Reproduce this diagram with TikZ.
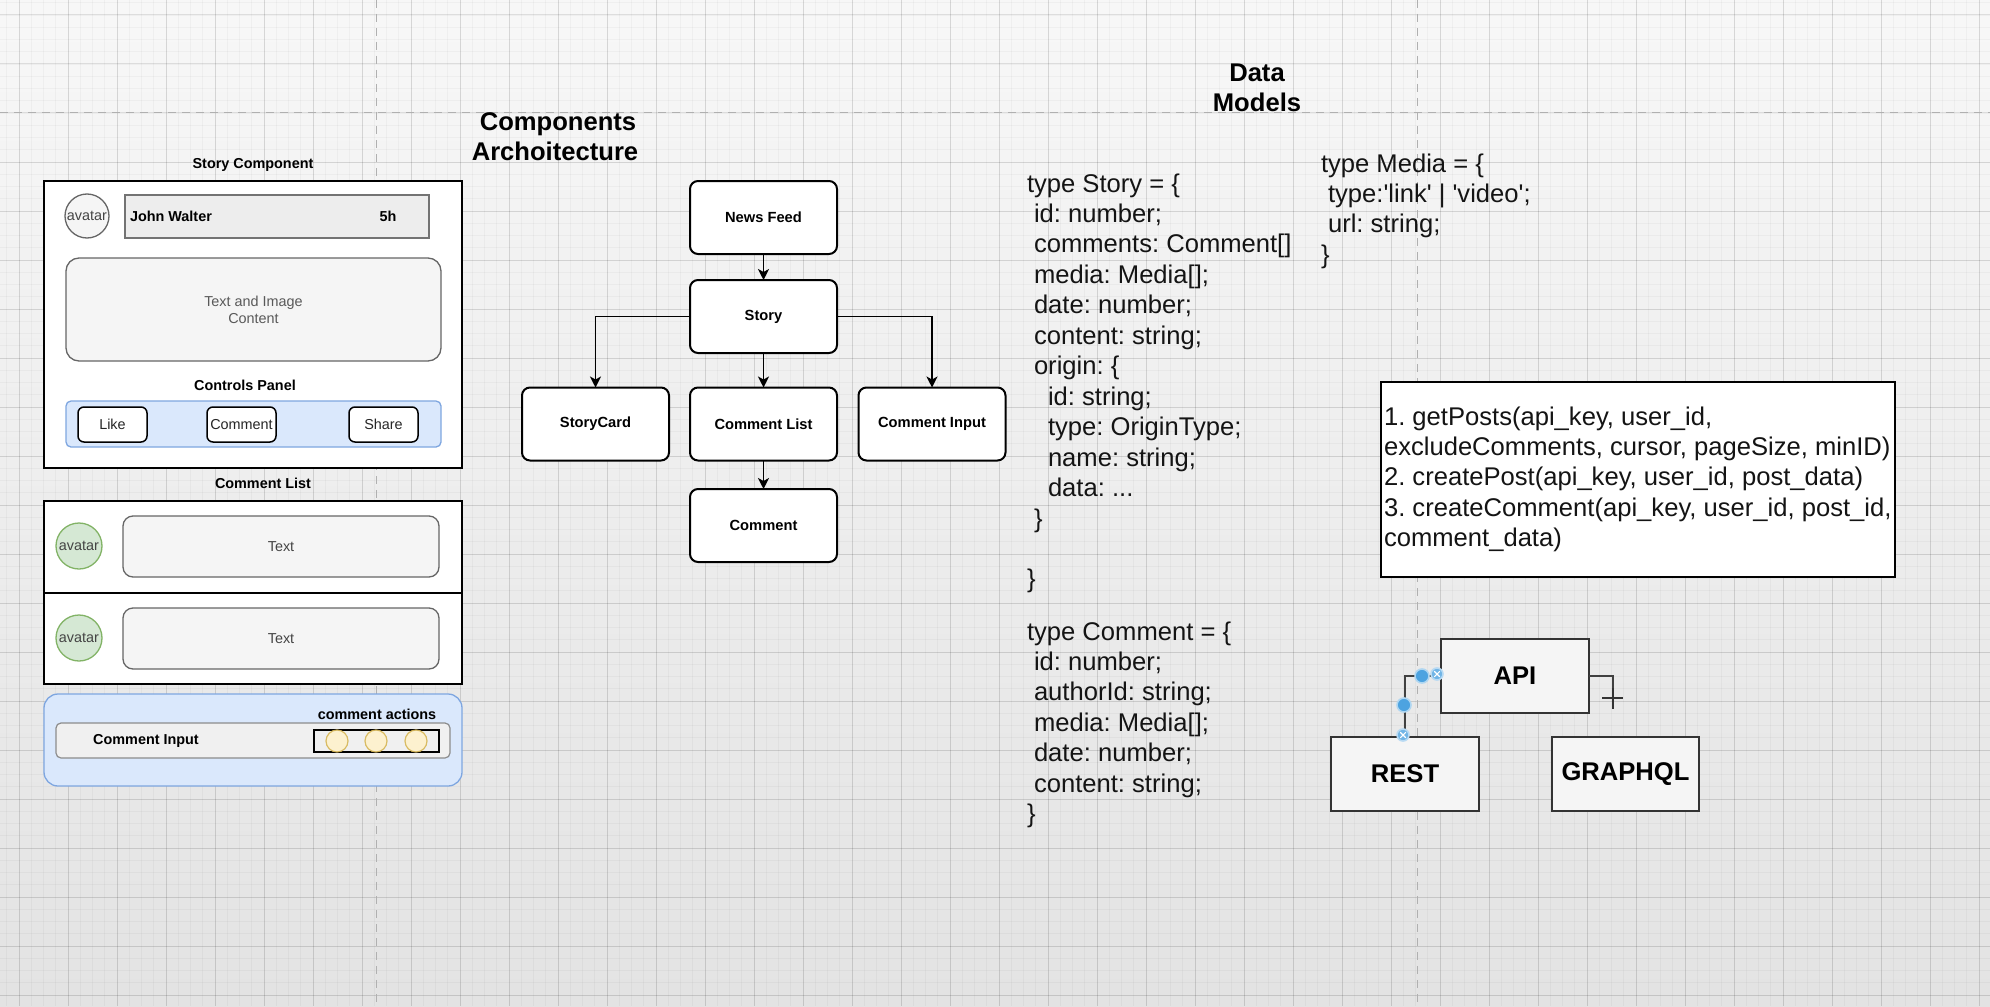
\documentclass[tikz,border=0pt]{standalone}
\usepackage{fontspec}
\setmainfont{Liberation Sans}[Ligatures=TeXOff]
\frenchspacing
\usetikzlibrary{arrows.meta}
\definecolor{gfill}{HTML}{F5F5F5}
\definecolor{gline}{HTML}{666666}
\definecolor{gtext}{HTML}{444444}
\definecolor{bfill}{HTML}{DAE8FC}
\definecolor{bline}{HTML}{7EA6E0}
\definecolor{grfill}{HTML}{D5E8D4}
\definecolor{grline}{HTML}{82B366}
\definecolor{yfill}{HTML}{FFF2CC}
\definecolor{yline}{HTML}{D6B656}
\definecolor{hblue}{HTML}{4DA3E0}
\definecolor{pagebrk}{HTML}{B0B0B0}
\begin{document}
\frenchspacing
\begin{tikzpicture}[x=0.5pt,y=-0.5pt,
  lblsm/.style={font=\fontsize{7.2}{8.5}\selectfont, inner sep=0pt, outer sep=0pt},
  lblsmb/.style={font=\fontsize{7.2}{8.5}\selectfont\bfseries, inner sep=0pt, outer sep=0pt},
  lblbig/.style={font=\fontsize{12.8}{15.2}\selectfont, inner sep=0pt, outer sep=0pt},
  lblbigb/.style={font=\fontsize{12.8}{15.2}\selectfont\bfseries, inner sep=0pt, outer sep=0pt},
  codeline/.style={lblbig, anchor=base west, text=black!92},
  outerbox/.style={draw=black, line width=1pt, fill=white, inner sep=0pt, outer sep=0pt},
  graybox/.style={draw=gline, fill=gfill, line width=0.65pt, text=gtext, inner sep=0pt, outer sep=0pt, lblsm},
  avgray/.style={circle, draw=gline, fill=gfill, line width=0.65pt, text=gtext, minimum size=22pt, inner sep=0pt, lblsm},
  avgreen/.style={circle, draw=grline, fill=grfill, line width=0.65pt, text=gtext, minimum size=23pt, inner sep=0pt, lblsm},
  btn/.style={draw=black, fill=white, line width=0.75pt, rounded corners=3pt, minimum width=34.5pt, minimum height=17.5pt, inner sep=0pt, lblsm, text=black!85},
  bluebox/.style={draw=bline, fill=bfill, line width=0.65pt, inner sep=0pt, outer sep=0pt},
  arch/.style={draw=black, fill=white, line width=1pt, rounded corners=4pt, minimum width=73.5pt, minimum height=36.5pt, inner sep=0pt, outer sep=0pt, font=\fontsize{7.35}{8.8}\selectfont\bfseries},
  conn/.style={line width=0.75pt, -{Stealth[length=5.5pt,width=5.5pt,inset=1.5pt]}},
  apibox/.style={draw=black!80, fill=white!96!black, line width=0.75pt, minimum width=74pt, minimum height=37pt, inner sep=0pt, outer sep=0pt, lblbigb},
  hdot/.style={circle, fill=hblue, minimum size=7pt, inner sep=0pt, draw=hblue!45, line width=0.8pt},
  hxdot/.style={circle, fill=hblue!80, minimum size=6pt, inner sep=0pt, draw=hblue!40, line width=0.8pt,
    path picture={
      \draw[white, line width=0.55pt] ([shift={(-1.4pt,-1.4pt)}]path picture bounding box.center) -- ([shift={(1.4pt,1.4pt)}]path picture bounding box.center);
      \draw[white, line width=0.55pt] ([shift={(-1.4pt,1.4pt)}]path picture bounding box.center) -- ([shift={(1.4pt,-1.4pt)}]path picture bounding box.center);}},
  yc/.style={circle, draw=yline, fill=yfill, minimum size=11pt, inner sep=0pt, line width=0.6pt, opacity=0.9}
]
\useasboundingbox (0,0) rectangle (1990,1006);
% background and grid
\fill[top color=white!97!black, bottom color=white!89!black] (0,0) rectangle (1990,1006);
\foreach \i in {0,...,161} \draw[black, opacity=0.03, line width=0.35pt] ({6.75+12.25*\i},0) -- ({6.75+12.25*\i},1006);
\foreach \j in {0,...,81} \draw[black, opacity=0.03, line width=0.35pt] (0,{2.75+12.25*\j}) -- (1990,{2.75+12.25*\j});
\foreach \i in {0,...,40} \draw[black, opacity=0.1, line width=0.5pt] ({19+49*\i},0) -- ({19+49*\i},1006);
\foreach \j in {0,...,20} \draw[black, opacity=0.1, line width=0.5pt] (0,{15+49*\j}) -- (1990,{15+49*\j});
% page breaks
\draw[pagebrk, dash pattern=on 4pt off 3pt, line width=0.5pt] (0,112.5) -- (1990,112.5);
\draw[pagebrk, dash pattern=on 4pt off 3pt, line width=0.5pt] (376,0) -- (376,1006);
\draw[pagebrk, dash pattern=on 4pt off 3pt, line width=0.5pt] (1417,0) -- (1417,1006);

% ---------- Story component ----------
\node[lblsmb, anchor=base] (tsc) at (253,168) {Story Component};
\node[outerbox, minimum width=209pt, minimum height=143.5pt] (sco) at (253,324.5) {};
\node[avgray] (av0) at (87,216) {avatar};
\node[draw=black!55, fill=black!7, line width=0.9pt, minimum width=152pt, minimum height=21.5pt, inner sep=0pt] (nb) at (277,216.5) {};
\node[lblsmb, anchor=west] (jw) at (130,216.5) {John Walter};
\node[lblsmb] (fh) at (388,216.5) {5h};
\node[graybox, rounded corners=6.5pt, minimum width=187.5pt, minimum height=51.5pt, align=center, text=black!65] (cnt) at (253.5,309.5) {Text and Image\\Content};
\node[lblsmb, anchor=base] (cpl) at (245,390) {Controls Panel};
\node[bluebox, rounded corners=2.5pt, minimum width=187.5pt, minimum height=23pt] (cp) at (253.5,424) {};
\node[btn] (bl) at (112.5,424.5) {Like};
\node[btn] (bc) at (241.5,424.5) {Comment};
\node[btn] (bs) at (383.5,424.5) {Share};

% ---------- Comment list ----------
\node[lblsmb, anchor=base] (tcl) at (263,488) {Comment List};
\node[outerbox, minimum width=209pt, minimum height=91.5pt] (clbox) at (253,592.5) {};
\draw[line width=1pt] (clbox.west) -- (clbox.east);
\node[avgreen] (av1) at (79,546) {avatar};
\node[avgreen] (av2) at (79,638) {avatar};
\node[graybox, rounded corners=5pt, minimum width=158pt, minimum height=30.5pt] (tx1) at (281,546.5) {Text};
\node[graybox, rounded corners=5pt, minimum width=158pt, minimum height=30.5pt] (tx2) at (281,638.5) {Text};

% ---------- Comment input ----------
\node[bluebox, rounded corners=7pt, minimum width=209pt, minimum height=46pt] (ciout) at (253,740) {};
\node[lblsmb, anchor=base] (cact) at (377,719) {comment actions};
\node[draw=black!45, fill=black!6, rounded corners=2.5pt, line width=0.6pt, minimum width=197pt, minimum height=17.5pt, inner sep=0pt] (cibar) at (253,740.5) {};
\node[lblsmb] (cilbl) at (146,741) {Comment Input};
\node[draw=black, fill=black!6, line width=0.8pt, minimum width=62.5pt, minimum height=11pt, inner sep=0pt] (acts) at (376.5,741) {};
\node[yc] (y1) at (337,741) {};
\node[yc] (y2) at (376,741) {};
\node[yc] (y3) at (416,741) {};

% ---------- Components architecture ----------
\node[lblbigb, anchor=base] (ca1) at (558,131) {Components};
\node[lblbigb, anchor=base] (ca2) at (555,160) {Archoitecture};
\node[arch] (nf) at (763.5,217.5) {News Feed};
\node[arch] (story) at (763.5,316.5) {Story};
\node[arch] (sc) at (595.5,424) {StoryCard};
\node[arch] (clst) at (763.5,424) {Comment List};
\node[arch] (cin) at (932,424) {Comment Input};
\node[arch] (cmt) at (763.5,525.5) {Comment};
\draw[conn] (nf) -- (story);
\draw[conn] (story.west) -| (sc.north);
\draw[conn] (story) -- (clst);
\draw[conn] (story.east) -| (cin.north);
\draw[conn] (clst) -- (cmt);

% ---------- Data models ----------
\node[lblbigb, anchor=base] (dm1) at (1257,82) {Data};
\node[lblbigb, anchor=base] (dm2) at (1257,112) {Models};
\foreach \k/\xx/\t in {0/1027/{type Story = \{}, 1/1034/{id: number;}, 2/1034/{comments: Comment[]},
  3/1034/{media: Media[];}, 4/1034/{date: number;}, 5/1034/{content: string;}, 6/1034/{origin: \{},
  7/1048/{id: string;}, 8/1048/{type: OriginType;}, 9/1048/{name: string;}, 10/1048/{data: ...},
  11/1034/{\}}, 13/1027/{\}}}
  \node[codeline] (st\k) at (\xx,{192+30.46*\k}) {\t};
\foreach \k/\xx/\t in {0/1321/{type Media = \{}, 1/1328/{type:'link' | 'video';}, 2/1328/{url: string;}, 3/1321/{\}}}
  \node[codeline] (md\k) at (\xx,{172+30.46*\k}) {\t};
\foreach \k/\xx/\t in {0/1027/{type Comment = \{}, 1/1034/{id: number;}, 2/1034/{authorId: string;},
  3/1034/{media: Media[];}, 4/1034/{date: number;}, 5/1034/{content: string;}, 6/1027/{\}}}
  \node[codeline] (ct\k) at (\xx,{640+30.4*\k}) {\t};

% ---------- API functions ----------
\node[draw=black, fill=white, line width=0.75pt, minimum width=257pt, minimum height=97.5pt, inner sep=0pt] (fbox) at (1638,479.5) {};
\foreach \k/\t in {0/{1. getPosts(api\_key, user\_id,}, 1/{excludeComments, cursor, pageSize, minID)},
  2/{2. createPost(api\_key, user\_id, post\_data)}, 3/{3. createComment(api\_key, user\_id, post\_id,},
  4/{comment\_data)}}
  \node[codeline] (ap\k) at (1384,{425+30.4*\k}) {\t};

% ---------- API / REST / GRAPHQL ----------
\node[apibox] (api) at (1515,676) {API};
\node[apibox] (rest) at (1405,774) {REST};
\node[apibox, minimum width=73.5pt] (gql) at (1625.5,774) {GRAPHQL};
\draw[line width=0.6pt, black!75] (rest.north) |- (api.west);
\coordinate (cur) at (1613,698);
\draw[line width=0.6pt, black!75] (api.east) -| (cur);
\draw[line width=0.6pt, black!80] ([xshift=-5.5pt]cur) -- ([xshift=5pt]cur);
\draw[line width=0.6pt, black!80] ([yshift=5pt]cur) -- ([yshift=-5.5pt]cur);
\node[hdot] (h1) at (1422,676) {};
\node[hxdot] (h2) at (1437,674) {};
\node[hdot] (h3) at (1404,705) {};
\node[hxdot] (h4) at (1403,735) {};
\end{tikzpicture}
\end{document}
